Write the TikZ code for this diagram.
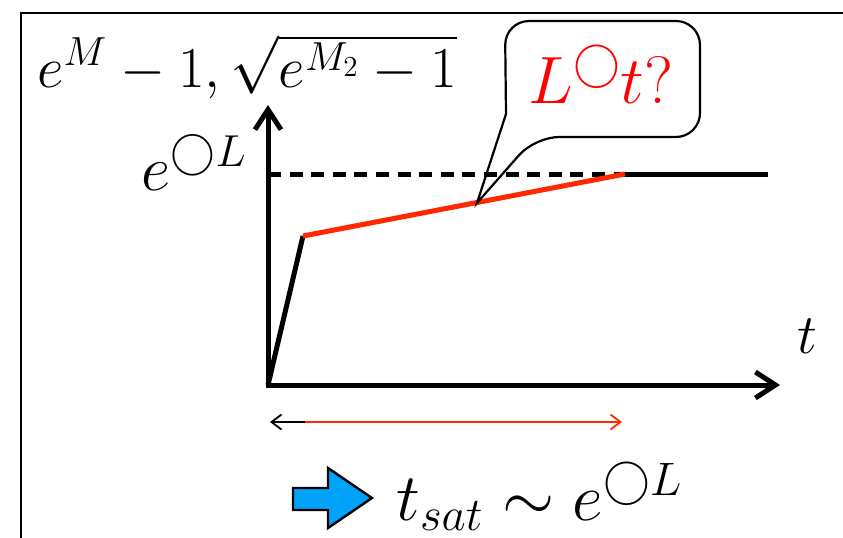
\RequirePackage{fix-cm}
\documentclass[tikz,border=0pt]{standalone}
\usetikzlibrary{arrows.meta}
\definecolor{linered}{RGB}{255,40,0}
\definecolor{arrowblue}{RGB}{0,162,250}
\tikzset{
  thickline/.style={line width=2.5pt},
  axisline/.style={line width=2.5pt, {Straight Barb[length=10pt,width=13pt]}-{Straight Barb[length=10pt,width=13pt]}},
  spanarrow/.style={line width=0.9pt},
  bigmath/.style={font=\fontsize{33.5}{40}\selectfont},
  labmath/.style={font=\fontsize{32}{38}\selectfont},
  toplabel/.style={font=\fontsize{29}{35}\selectfont},
  midmath/.style={font=\fontsize{28}{34}\selectfont},
}
\begin{document}
\begin{tikzpicture}[x=0.5pt,y=-0.5pt]
\useasboundingbox (0,0) rectangle (843,537);
\clip (0,0) rectangle (843,537);
\draw[line width=1.3pt] (21,13) rectangle (900,600);

\coordinate (O) at (268,385);
\coordinate (ytop) at (268,105);
\coordinate (xend) at (780,385);
\coordinate (knee) at (303,236);
\coordinate (sat) at (625,174);
\coordinate (satend) at (768,174);
\coordinate (dashstart) at (268,174);
\coordinate (tip) at (477,203);

% axes
\draw[axisline] (ytop) -- (O) -- (xend);
% dashed saturation level
\draw[thickline, dash pattern=on 6.5pt off 4.3pt] (dashstart) -- (sat);
\draw[thickline] (sat) -- (satend);
% curve
\draw[thickline] (O) -- (knee);
\draw[thickline, linered] (knee) -- (sat);

% span arrow
\coordinate (sl) at (270,422);
\coordinate (sm) at (305,422);
\coordinate (sr) at (622,422);
\draw[spanarrow, {Straight Barb[length=5pt,width=7.5pt]}-] (sl) -- (sm);
\draw[spanarrow, linered, -{Straight Barb[length=5pt,width=7.5pt]}] (sm) -- (sr);

% callout
\draw[line width=1.1pt] (506,114) [rounded corners=12pt] -- (505,21) -- (700,21) -- (700,137) -- (535,137) [sharp corners] -- (tip) -- cycle;

% labels
\node[toplabel, anchor=base west, inner sep=0pt] (ylab) at (37,87) {$e^M-1,\sqrt{e^{M_2}-1}$};
\node[labmath, anchor=base east, inner sep=0pt] (satlab) at (247,190) {$e^{\bigcirc L}$};
\node[bigmath, anchor=base west, inner sep=0pt, red] (q) at (528,103) {$L^{\bigcirc}t?$};
\node[midmath, anchor=base west, inner sep=0pt] (tlab) at (797,353) {$t$};
\node[bigmath, anchor=base west, inner sep=0pt] (res) at (396,520) {$t_{sat}\sim e^{\bigcirc L}$};

% blue block arrow
\draw[fill=arrowblue, line width=1.2pt] (293,488) -- (328,488) -- (328,468) -- (372,498) -- (328,528) -- (328,510) -- (293,510) -- cycle;
\end{tikzpicture}
\end{document}
